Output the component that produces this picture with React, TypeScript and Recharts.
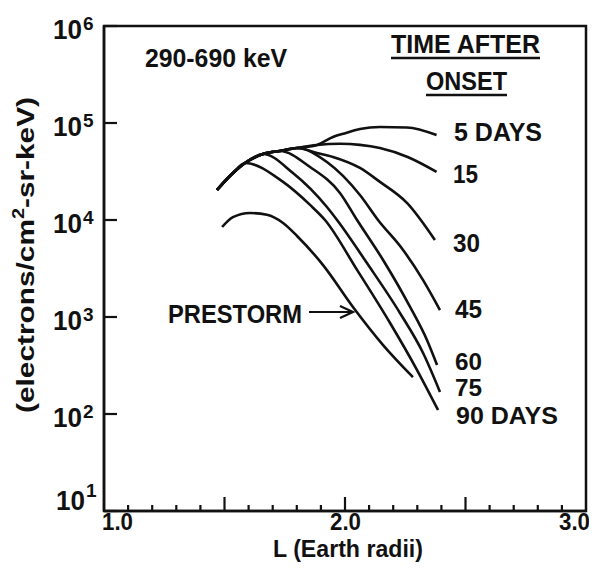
import React from 'react';
import { LineChart, Line, XAxis, YAxis, ReferenceArea } from 'recharts';

// ---- data (L in Earth radii, flux in electrons/cm^2-sr-keV) ----
const X_TICKS = [1.0, 1.1, 1.2, 1.3, 1.4, 1.5, 1.6, 1.7, 1.8, 1.9, 2.0, 2.1, 2.2, 2.3, 2.4, 2.5, 2.6, 2.7, 2.8, 2.9, 3.0];
const X_MAJOR = [1.5, 2.0, 2.5];
const X_LABELS = [
  { v: 1.0, text: '1.0' },
  { v: 2.0, text: '2.0' },
  { v: 3.0, text: '3.0' },
];
const Y_TICKS = [10, 100, 1000, 10000, 100000, 1000000];
const Y_EXP = ['1', '2', '3', '4', '5', '6'];

const DAYS_5 = [
  { L: 1.469, v: 20400 }, { L: 1.535, v: 30500 }, { L: 1.585, v: 38700 }, { L: 1.66, v: 47900 },
  { L: 1.73, v: 51400 }, { L: 1.801, v: 55200 }, { L: 1.884, v: 59300 }, { L: 1.95, v: 71800 },
  { L: 2.004, v: 78900 }, { L: 2.062, v: 86700 }, { L: 2.145, v: 91000 }, { L: 2.257, v: 90000 },
  { L: 2.38, v: 75200 },
];
const DAYS_15 = [
  { L: 1.469, v: 20400 }, { L: 1.535, v: 30500 }, { L: 1.585, v: 38700 }, { L: 1.66, v: 47900 },
  { L: 1.73, v: 51400 }, { L: 1.801, v: 55200 }, { L: 1.884, v: 59300 }, { L: 1.979, v: 61000 },
  { L: 2.062, v: 59500 }, { L: 2.145, v: 55200 }, { L: 2.26, v: 44600 }, { L: 2.38, v: 31300 },
];
const DAYS_30 = [
  { L: 1.469, v: 20400 }, { L: 1.535, v: 30500 }, { L: 1.585, v: 38700 }, { L: 1.66, v: 47900 },
  { L: 1.73, v: 51400 }, { L: 1.801, v: 55200 }, { L: 1.884, v: 49100 }, { L: 1.95, v: 44700 },
  { L: 2.062, v: 34400 }, { L: 2.145, v: 24700 }, { L: 2.257, v: 15000 }, { L: 2.373, v: 6220 },
];
const DAYS_45 = [
  { L: 1.469, v: 20400 }, { L: 1.535, v: 30500 }, { L: 1.585, v: 38700 }, { L: 1.66, v: 47900 },
  { L: 1.73, v: 51400 }, { L: 1.801, v: 55200 }, { L: 1.925, v: 39600 }, { L: 2.062, v: 18100 },
  { L: 2.137, v: 10000 }, { L: 2.241, v: 4910 }, { L: 2.324, v: 2400 }, { L: 2.394, v: 1180 },
];
const DAYS_60 = [
  { L: 1.469, v: 20400 }, { L: 1.535, v: 30500 }, { L: 1.585, v: 38700 }, { L: 1.66, v: 47900 },
  { L: 1.73, v: 51400 }, { L: 1.855, v: 35200 }, { L: 1.979, v: 19000 }, { L: 2.05, v: 10000 },
  { L: 2.158, v: 3870 }, { L: 2.27, v: 1270 }, { L: 2.34, v: 580 }, { L: 2.382, v: 320 },
];
const DAYS_75 = [
  { L: 1.469, v: 20400 }, { L: 1.535, v: 30500 }, { L: 1.585, v: 38700 }, { L: 1.66, v: 47900 },
  { L: 1.784, v: 30500 }, { L: 1.925, v: 13600 }, { L: 1.967, v: 10000 }, { L: 2.091, v: 3600 },
  { L: 2.228, v: 1100 }, { L: 2.324, v: 425 }, { L: 2.394, v: 169 },
];
const DAYS_90 = [
  { L: 1.469, v: 20400 }, { L: 1.535, v: 30500 }, { L: 1.585, v: 38700 }, { L: 1.743, v: 24700 },
  { L: 1.855, v: 14300 }, { L: 1.917, v: 10000 }, { L: 2.05, v: 3060 }, { L: 2.187, v: 867 },
  { L: 2.299, v: 284 }, { L: 2.386, v: 110 },
];
const PRESTORM = [
  { L: 1.49, v: 8470 }, { L: 1.535, v: 10700 }, { L: 1.606, v: 11800 }, { L: 1.676, v: 11300 },
  { L: 1.743, v: 9310 }, { L: 1.801, v: 6840 }, { L: 1.909, v: 3430 }, { L: 2.033, v: 1270 },
  { L: 2.158, v: 514 }, { L: 2.282, v: 240 },
];

const SERIES = [
  { name: '5 DAYS', data: DAYS_5 },
  { name: '15', data: DAYS_15 },
  { name: '30', data: DAYS_30 },
  { name: '45', data: DAYS_45 },
  { name: '60', data: DAYS_60 },
  { name: '75', data: DAYS_75 },
  { name: '90 DAYS', data: DAYS_90 },
  { name: 'PRESTORM', data: PRESTORM },
];

const FONT = '"Liberation Sans", Arial, Helvetica, sans-serif';
const INK = '#111';

const near = (a: number, b: number) => Math.abs(a - b) < 1e-6;

function XTick(props: any) {
  const { x, y, payload } = props;
  const v = payload.value;
  const isEdge = near(v, 1) || near(v, 3);
  const major = X_MAJOR.some((m) => near(m, v));
  const lab = X_LABELS.find((l) => near(l.v, v));
  let tx = x - 15;
  if (lab && near(v, 1)) tx = x - 2;
  if (lab && near(v, 3)) tx = x - 27;
  return (
    <g>
      {!isEdge && (
        <line x1={x} x2={x} y1={y} y2={y - (major ? 14 : 6)} stroke={INK} strokeWidth={2.2} />
      )}
      {lab && (
        <text x={tx} y={y + 19} textAnchor="start" fontFamily={FONT} fontWeight="bold" fontSize={24}
          textLength={31} lengthAdjust="spacingAndGlyphs" fill={INK}>
          {lab.text}
        </text>
      )}
    </g>
  );
}

function YTick(props: any) {
  const { x, y, payload } = props;
  const v = payload.value;
  const idx = Y_TICKS.indexOf(v);
  const exp = Y_EXP[idx] ?? '';
  const bottom = v === 10;
  const dx = bottom ? 3 : 0;
  const base = bottom ? y - 1 : y + 13;
  const expBase = bottom ? y - 14 : y + 4;
  return (
    <g>
      <line x1={x} x2={x + 13} y1={y} y2={y} stroke={INK} strokeWidth={2.2} />
      <text x={x - 51 + dx} y={base} textAnchor="start" fontFamily={FONT} fontWeight="bold" fontSize={27}
        textLength={29} lengthAdjust="spacingAndGlyphs" fill={INK}>10</text>
      <text x={x - 21 + dx} y={expBase} textAnchor="start" fontFamily={FONT} fontWeight="bold" fontSize={19} fill={INK}>
        {exp}
      </text>
    </g>
  );
}

function Overlay() {
  const t = (txt: string, x: number, y: number, w: number, size = 25) => (
    <text x={x} y={y} fontFamily={FONT} fontWeight="bold" fontSize={size} textLength={w}
      lengthAdjust="spacingAndGlyphs" fill={INK}>{txt}</text>
  );
  return (
    <svg width={597} height={571} style={{ position: 'absolute', left: 0, top: 0, pointerEvents: 'none' }}>
      {t('290-690 keV', 145, 67, 142, 26)}
      {t('TIME AFTER', 391, 53, 149, 26)}
      <line x1={391} x2={540} y1={58} y2={58} stroke={INK} strokeWidth={2.5} />
      {t('ONSET', 426, 90, 81, 26)}
      <line x1={426} x2={507} y1={95} y2={95} stroke={INK} strokeWidth={2.5} />
      {t('5 DAYS', 454, 141, 88)}
      {t('15', 453, 183, 25)}
      {t('30', 453, 252, 27)}
      {t('45', 455, 318, 27)}
      {t('60', 455, 370, 27, 24)}
      {t('75', 455, 396, 27, 24)}
      {t('90 DAYS', 456, 424, 102, 24)}
      {t('PRESTORM', 168, 323, 134)}
      <line x1={309} x2={352} y1={312} y2={312} stroke={INK} strokeWidth={2.2} />
      <polyline points="340,306 353,312 340,318" fill="none" stroke={INK} strokeWidth={2.2} />
      {t('L (Earth radii)', 273, 557, 150, 23)}
      <text x={34} y={413} transform="rotate(-90, 34, 413)" textAnchor="start" fontFamily={FONT}
        fontWeight="bold" fontSize={24} textLength={316} lengthAdjust="spacingAndGlyphs" fill={INK}>
        (electrons/cm
        <tspan fontSize={16} dy={-10}>2</tspan>
        <tspan dy={10}>-sr-keV)</tspan>
      </text>
    </svg>
  );
}

export default function App() {
  return (
    <div style={{ position: 'relative', width: 581, height: 555 }}>
      <div style={{ position: 'absolute', left: -8, top: -8, width: 597, height: 571, background: '#fff' }}>
        <LineChart width={597} height={571} margin={{ top: 26, right: 11, bottom: 0, left: 0 }}>
          <XAxis dataKey="L" type="number" domain={[1, 3]} ticks={X_TICKS} interval={0}
            tickSize={0} tickMargin={0} tickLine={false} tick={(p: any) => <XTick {...p} />}
            axisLine={{ stroke: INK, strokeWidth: 2.5 }} height={60} allowDataOverflow />
          <YAxis type="number" scale="log" domain={[10, 1000000]} ticks={Y_TICKS} interval={0}
            tickSize={0} tickMargin={0} tickLine={false} tick={(p: any) => <YTick {...p} />}
            axisLine={{ stroke: INK, strokeWidth: 2.5 }} width={104} allowDataOverflow />
          <ReferenceArea x1={1} x2={3} y1={10} y2={1000000} fill="none" fillOpacity={0}
            stroke={INK} strokeWidth={2.5} />
          {SERIES.map((s) => (
            <Line key={s.name} data={s.data} dataKey="v" type="monotone" dot={false} activeDot={false}
              stroke={INK} strokeWidth={2.6} isAnimationActive={false} />
          ))}
        </LineChart>
        <Overlay />
      </div>
    </div>
  );
}
